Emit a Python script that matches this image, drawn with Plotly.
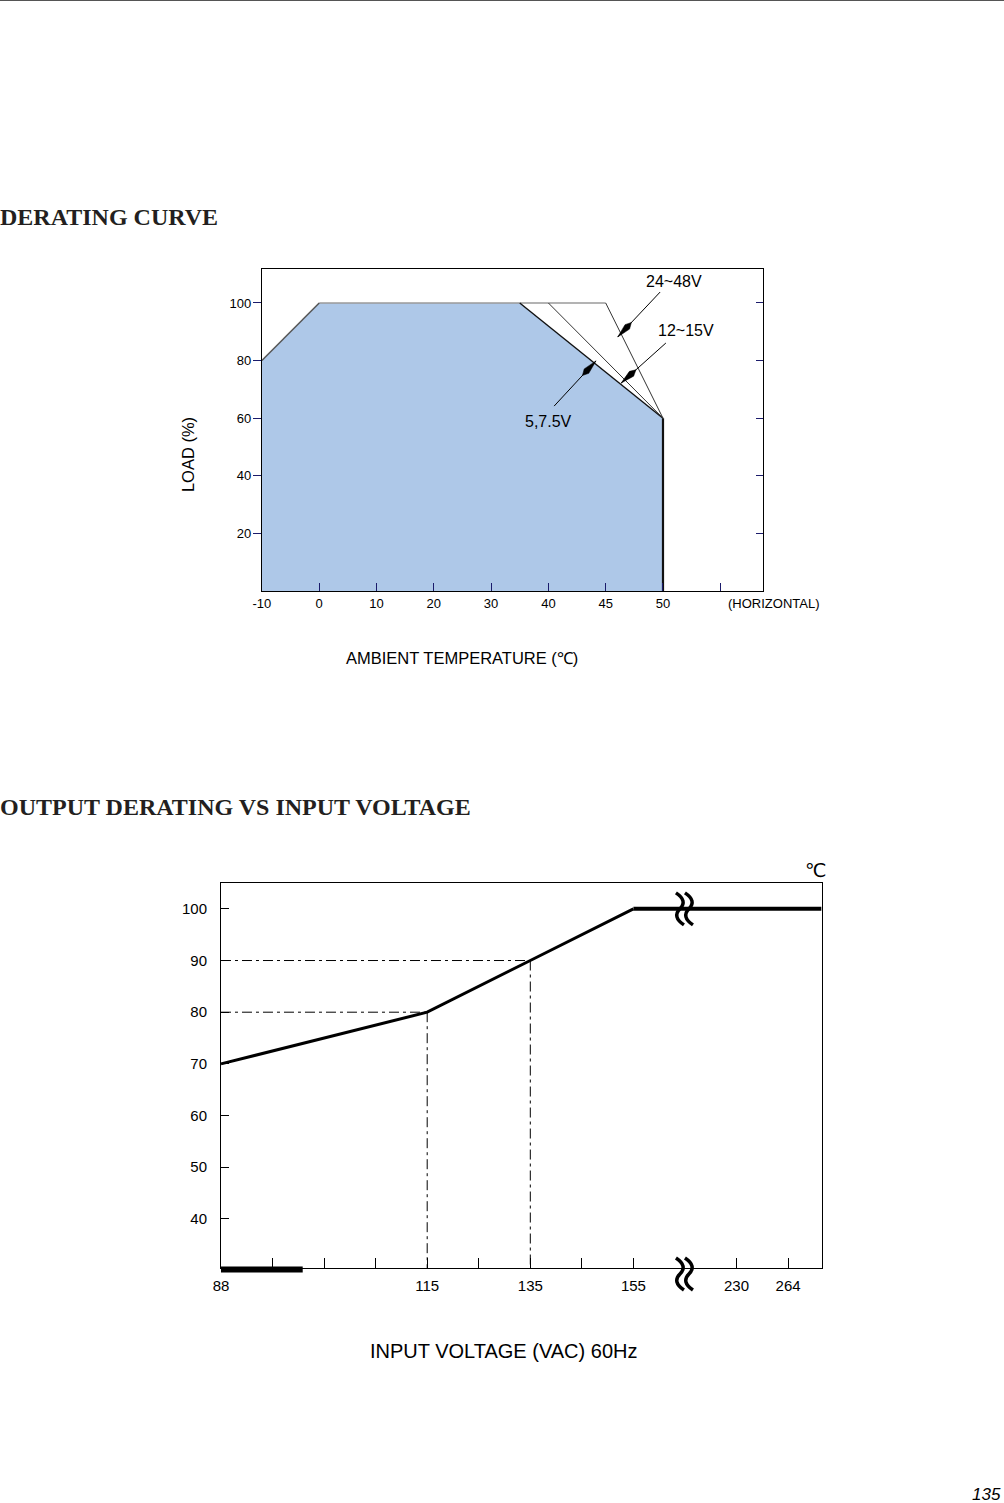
import numpy as np
import plotly.graph_objects as go

W, H = 1004, 1503

# ---------------- DERATING CURVE (top chart) ----------------
temp_ticks = [-10, 0, 10, 20, 30, 40, 45, 50]          # evenly spaced tick positions
temp_tick_labels = ["-10", "0", "10", "20", "30", "40", "45", "50", ""]
load_ticks = [20, 40, 60, 80, 100]

v57_temp = [-10, 0, 35, 50, 50]
v57_load = [80, 100, 100, 60, 0]
v1215_temp = [35, 40, 50]
v1215_load = [100, 100, 60]
v2448_temp = [40, 45, 50]
v2448_load = [100, 100, 60]

# ---------------- OUTPUT DERATING VS INPUT VOLTAGE (bottom chart) ----------------
volt_ticks = [88, 115, 135, 155, 230, 264]
volt_tick_pos = [0, 4, 6, 8, 10, 11]
volt_minor_pos = [1, 2, 3, 5, 7]
temp_lim_volt = [88, 115, 135, 155, 230, 264]
temp_lim_val = [70, 80, 90, 100, 100, 100]
temp_y_ticks = [40, 50, 60, 70, 80, 90, 100]
bold_range_volt = [88, 98.7]
break_pos = 9


def tpos(t):
    return np.interp(t, temp_ticks, list(range(len(temp_ticks))))


def vpos(v):
    return np.interp(v, volt_ticks, volt_tick_pos)


def py(p):
    return 1 - p / H


def px(p):
    # horizontal page coordinate -> paper fraction (small offset compensation)
    return ((p - 7.5) / 0.9934) / W


X1_RANGE = [0, 8.74]
Y1_RANGE = [0, 111.8]
X2_RANGE = [0, 11.65]
Y2_RANGE = [30.5, 105]
X1_DOM = [px(261), px(763)]
Y1_DOM = [py(591), py(269)]
X2_DOM = [px(220), px(822)]
Y2_DOM = [py(1268), py(883)]

KX1 = (X1_DOM[1] - X1_DOM[0]) * W / (X1_RANGE[1] - X1_RANGE[0])
KY1 = (Y1_DOM[1] - Y1_DOM[0]) * H / (Y1_RANGE[1] - Y1_RANGE[0])


def to_paper_x2(pos):
    return X2_DOM[0] + (pos - X2_RANGE[0]) / (X2_RANGE[1] - X2_RANGE[0]) * (X2_DOM[1] - X2_DOM[0])


def to_paper_y2(val):
    return Y2_DOM[0] + (val - Y2_RANGE[0]) / (Y2_RANGE[1] - Y2_RANGE[0]) * (Y2_DOM[1] - Y2_DOM[0])


fig = go.Figure()

# --- top chart traces ---
fig.add_trace(go.Scatter(x=tpos(v57_temp), y=v57_load, mode="lines", fill="tozeroy",
                         fillcolor="#aec8e8", line=dict(width=0, color="rgba(0,0,0,0)"),
                         xaxis="x", yaxis="y", hoverinfo="skip"))
fig.add_trace(go.Scatter(x=tpos([0, 35, 40, 45]), y=[100, 100, 100, 100], mode="lines",
                         line=dict(color="#9a9a9a", width=1.6), xaxis="x", yaxis="y"))
fig.add_trace(go.Scatter(x=tpos(v57_temp[:2]), y=v57_load[:2], mode="lines",
                         line=dict(color="#555555", width=1.5), xaxis="x", yaxis="y"))
fig.add_trace(go.Scatter(x=tpos(v57_temp[2:4]), y=v57_load[2:4], mode="lines",
                         line=dict(color="#111111", width=1.4), xaxis="x", yaxis="y"))
fig.add_trace(go.Scatter(x=tpos(v57_temp[3:5]), y=v57_load[3:5], mode="lines",
                         line=dict(color="#111111", width=2.2), xaxis="x", yaxis="y"))
fig.add_trace(go.Scatter(x=tpos(v1215_temp[1:]), y=v1215_load[1:], mode="lines",
                         line=dict(color="#333333", width=1), xaxis="x", yaxis="y"))
fig.add_trace(go.Scatter(x=tpos(v2448_temp[1:]), y=v2448_load[1:], mode="lines",
                         line=dict(color="#333333", width=1), xaxis="x", yaxis="y"))
fig.add_trace(go.Scatter(x=[0], y=[0], mode="markers", marker=dict(opacity=0),
                         xaxis="x", yaxis="y3", hoverinfo="skip"))

font_sans = "Arial, Liberation Sans, sans-serif"
labels = [("24~48V", 7.20, 107.3, (6.21, 88.2), (6.95, 103.8)),
          ("12~15V", 7.41, 90.6, (6.27, 72.2), (7.05, 86.1)),
          ("5,7.5V", 5.00, 58.7, (5.83, 79.9), (5.10, 64.2))]
ann = []
WL, WW = 20.0, 3.2
for txt, tx, ty, tip, tail in labels:
    ann.append(dict(text=txt, xref="x", yref="y", x=tx, y=ty, showarrow=False,
                    xanchor="center", yanchor="middle",
                    font=dict(family=font_sans, size=16, color="black")))
    fig.add_trace(go.Scatter(x=[tail[0], tip[0]], y=[tail[1], tip[1]], mode="lines",
                             line=dict(color="black", width=1), xaxis="x", yaxis="y"))
    dxp = (tail[0] - tip[0]) * KX1
    dyp = (tail[1] - tip[1]) * KY1
    n = np.hypot(dxp, dyp)
    ux, uy = dxp / n, dyp / n
    nx, ny = -uy, ux
    pts = [(0, 0), (ux * WL * 0.7 + nx * WW, uy * WL * 0.7 + ny * WW),
           (ux * WL, uy * WL), (ux * WL * 0.7 - nx * WW, uy * WL * 0.7 - ny * WW), (0, 0)]
    fig.add_trace(go.Scatter(x=[tip[0] + p[0] / KX1 for p in pts], y=[tip[1] + p[1] / KY1 for p in pts],
                             mode="lines", fill="toself", fillcolor="black",
                             line=dict(color="black", width=0.5), xaxis="x", yaxis="y"))

# --- bottom chart traces ---
dd = "10px,4px,3px,4px"
for v, t in [(115, 80), (135, 90)]:
    fig.add_trace(go.Scatter(x=[X2_RANGE[0], vpos(v)], y=[t, t], mode="lines",
                             line=dict(color="black", width=1, dash=dd), xaxis="x2", yaxis="y2"))
    fig.add_trace(go.Scatter(x=[vpos(v), vpos(v)], y=[t, Y2_RANGE[0]], mode="lines",
                             line=dict(color="black", width=1, dash=dd), xaxis="x2", yaxis="y2"))

fig.add_trace(go.Scatter(x=list(vpos(temp_lim_volt[:4])), y=temp_lim_val[:4], mode="lines",
                         line=dict(color="black", width=3), xaxis="x2", yaxis="y2"))
fig.add_trace(go.Scatter(x=[vpos(155), X2_RANGE[1]], y=[100, 100], mode="lines",
                         line=dict(color="black", width=4), xaxis="x2", yaxis="y2"))

shapes = []
shapes.append(dict(type="line", xref="paper", yref="paper",
                   x0=to_paper_x2(vpos(bold_range_volt[0])), x1=to_paper_x2(vpos(bold_range_volt[1])),
                   y0=to_paper_y2(Y2_RANGE[0]) - 1.5 / H, y1=to_paper_y2(Y2_RANGE[0]) - 1.5 / H,
                   line=dict(color="black", width=6)))


def stroke(dx, dy):
    return (f"M {dx-4},{dy+16} Q {dx+8},{dy+8} {dx},{dy} "
            f"Q {dx-8},{dy-8} {dx+4},{dy-16}")


for yv, yoff in [(100, 0), (Y2_RANGE[0], -6)]:
    for dx in (-5, 4):
        shapes.append(dict(type="path", xref="paper", yref="paper", xsizemode="pixel", ysizemode="pixel",
                           xanchor=to_paper_x2(break_pos), yanchor=to_paper_y2(yv), path=stroke(dx, yoff),
                           line=dict(color="black", width=3.5)))
shapes.append(dict(type="line", xref="paper", yref="paper", x0=-0.02, x1=1.02, y0=1 - 0.5 / H, y1=1 - 0.5 / H,
                   line=dict(color="#555555", width=1)))

serif = "Liberation Serif, Times New Roman, serif"
ann.append(dict(text="<b>DERATING CURVE</b>", xref="paper", yref="paper", x=px(-3.5), y=py(217),
                xanchor="left", yanchor="middle", showarrow=False,
                font=dict(family=serif, size=24, color="#231f20")))
ann.append(dict(text="<b>OUTPUT DERATING VS INPUT VOLTAGE</b>", xref="paper", yref="paper", x=px(-3.5),
                y=py(807), xanchor="left", yanchor="middle", showarrow=False,
                font=dict(family=serif, size=24, color="#231f20")))
ann.append(dict(text="LOAD (%)", xref="paper", yref="paper", x=px(187), y=py(455), textangle=-90,
                xanchor="center", yanchor="middle", showarrow=False,
                font=dict(family=font_sans, size=16.5, color="black")))
ann.append(dict(text="AMBIENT TEMPERATURE (℃)", xref="paper", yref="paper", x=px(462), y=py(658),
                xanchor="center", yanchor="middle", showarrow=False,
                font=dict(family=font_sans, size=16.5, color="black")))
ann.append(dict(text="(HORIZONTAL)", xref="paper", yref="paper", x=px(774), y=py(604),
                xanchor="center", yanchor="middle", showarrow=False,
                font=dict(family=font_sans, size=13, color="black")))
ann.append(dict(text="INPUT VOLTAGE (VAC) 60Hz", xref="paper", yref="paper", x=px(503), y=py(1351),
                xanchor="center", yanchor="middle", showarrow=False,
                font=dict(family=font_sans, size=20, color="black")))
ann.append(dict(text="℃", xref="paper", yref="paper", x=px(816), y=py(870),
                xanchor="center", yanchor="middle", showarrow=False,
                font=dict(family="DejaVu Sans, sans-serif", size=19, color="black")))
ann.append(dict(text="<i>135</i>", xref="paper", yref="paper", x=px(1004), y=py(1494),
                xanchor="right", yanchor="middle", showarrow=False,
                font=dict(family=font_sans, size=17, color="black")))

navy = "#1b1b6b"
fig.update_layout(
    width=W, height=H, margin=dict(l=0, r=0, t=0, b=0),
    paper_bgcolor="white", plot_bgcolor="white", showlegend=False,
    shapes=shapes, annotations=ann,
    xaxis=dict(domain=X1_DOM, anchor="y", range=X1_RANGE,
               tickmode="array", tickvals=list(range(len(temp_tick_labels))), ticktext=temp_tick_labels,
               ticks="inside", ticklen=8, tickcolor=navy, tickwidth=1,
               showline=True, mirror=True, linecolor="black", linewidth=1,
               showgrid=False, zeroline=False,
               tickfont=dict(family=font_sans, size=13, color="black")),
    yaxis=dict(domain=Y1_DOM, anchor="x", range=Y1_RANGE,
               tickmode="array", tickvals=load_ticks,
               ticks="outside", ticklen=8, tickcolor=navy, tickwidth=1,
               showline=True, mirror=True, linecolor="black", linewidth=1,
               showgrid=False, zeroline=False, ticklabelstandoff=-1,
               tickfont=dict(family=font_sans, size=13, color="black")),
    yaxis3=dict(overlaying="y", side="right", anchor="x", range=Y1_RANGE,
                tickmode="array", tickvals=load_ticks, ticks="inside", ticklen=7,
                tickcolor=navy, showticklabels=False, showline=False, showgrid=False, zeroline=False),
    xaxis2=dict(domain=X2_DOM, anchor="y2", range=X2_RANGE,
                tickmode="array",
                tickvals=volt_tick_pos + volt_minor_pos,
                ticktext=[str(v) for v in volt_ticks] + [""] * len(volt_minor_pos),
                ticks="inside", ticklen=10, tickcolor="black", tickwidth=1,
                showline=True, mirror=True, linecolor="black", linewidth=1,
                showgrid=False, zeroline=False, ticklabelstandoff=4,
                tickfont=dict(family=font_sans, size=15, color="black")),
    yaxis2=dict(domain=Y2_DOM, anchor="x2", range=Y2_RANGE,
                tickmode="array", tickvals=temp_y_ticks,
                ticks="inside", ticklen=8, tickcolor="black", tickwidth=1,
                showline=True, mirror=True, linecolor="black", linewidth=1,
                showgrid=False, zeroline=False, ticklabelstandoff=10,
                tickfont=dict(family=font_sans, size=15, color="black")),
)

fig.write_html("out.html")
